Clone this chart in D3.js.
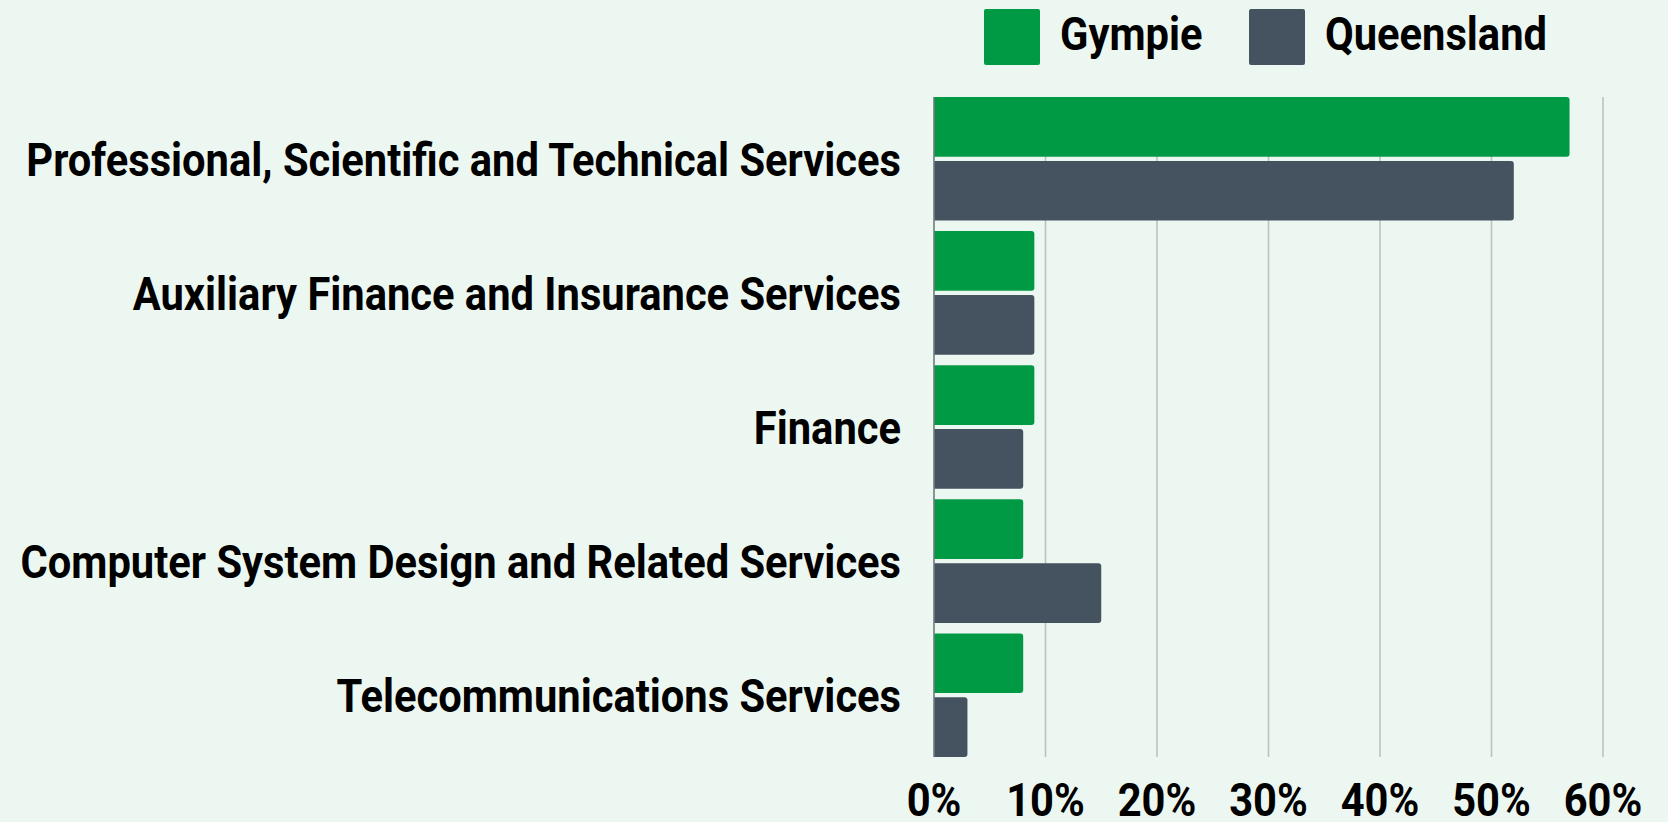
<!DOCTYPE html>
<html><head><meta charset="utf-8">
<script src="https://cdn.jsdelivr.net/npm/d3@7/dist/d3.min.js"></script>
<style>
html,body{margin:0;padding:0;background:#edf7f1;}
svg{display:block;}
text{font-family:"Roboto","Liberation Sans",sans-serif;font-weight:bold;fill:#000;}
</style></head><body>
<svg id="chart" width="1668" height="822"></svg>
<script>
const categories = [
  "Professional, Scientific and Technical Services",
  "Auxiliary Finance and Insurance Services",
  "Finance",
  "Computer System Design and Related Services",
  "Telecommunications Services"
];
const seriesNames = ["Gympie", "Queensland"];
const gympieValues = [57, 9, 9, 8, 8];
const queenslandValues = [52, 9, 8, 15, 3];
const tickValues = [0, 10, 20, 30, 40, 50, 60];
const colors = ["#009a45", "#45525f"];

(function () {
const svg = d3.select("#chart");
const pLeft = 934, pRight = 1603, pTop = 97, pBottom = 757;
const GAP = 10.5;

const x = d3.scaleLinear().domain([0, 60]).range([pLeft, pRight]);
const y = d3.scaleBand().domain(categories).range([pTop, pBottom + GAP]).padding(0);
const bandH = y.step() - GAP;
const y1 = d3.scaleBand().domain(seriesNames).range([0, bandH]).paddingInner(0.066);

// gridlines
svg.append("g").selectAll("line").data(tickValues.filter(d => d > 0)).join("line")
  .attr("x1", d => x(d)).attr("x2", d => x(d))
  .attr("y1", pTop).attr("y2", pBottom)
  .attr("stroke", "#b9c4bf").attr("stroke-width", 1.6);

// bars
const data = categories.map((c, i) => ({cat: c, vals: [gympieValues[i], queenslandValues[i]]}));
function barPath(x0, x1, y0, h, r) {
  return `M${x0},${y0}H${x1 - r}Q${x1},${y0} ${x1},${y0 + r}V${y0 + h - r}Q${x1},${y0 + h} ${x1 - r},${y0 + h}H${x0}Z`;
}
const g = svg.append("g");
data.forEach(d => {
  d.vals.forEach((v, si) => {
    const y0 = y(d.cat) + y1(seriesNames[si]);
    g.append("path")
      .attr("d", barPath(x(0), x(v), y0, y1.bandwidth(), 3))
      .attr("fill", colors[si]);
  });
});

// axis line
svg.append("line").attr("x1", x(0)).attr("x2", x(0)).attr("y1", pTop).attr("y2", pBottom)
  .attr("stroke", "#6f7b7d").attr("stroke-width", 1.6);

const FS = 47;
const probe = svg.append("text").attr("font-size", FS).text(categories[0]);
const w0 = probe.node().getComputedTextLength();
probe.remove();
const k = Math.min(1, 875 / w0);

// category labels
svg.append("g").selectAll("text").data(categories).join("text")
  .attr("font-size", FS)
  .attr("text-anchor", "end")
  .attr("dy", "0.36em")
  .attr("transform", d => `translate(901,${y(d) + bandH / 2}) scale(${k},1)`)
  .text(d => d);

// x tick labels
svg.append("g").selectAll("text").data(tickValues).join("text")
  .attr("font-size", FS)
  .attr("text-anchor", "middle")
  .attr("transform", d => `translate(${x(d)},816) scale(${k},1)`)
  .text(d => d + "%");

// legend
const legendX = [984, 1249];
const legendG = svg.append("g");
seriesNames.forEach((s, i) => {
  legendG.append("rect").attr("x", legendX[i]).attr("y", 9).attr("width", 56).attr("height", 56)
    .attr("rx", 2).attr("fill", colors[i]);
  legendG.append("text").attr("font-size", FS)
    .attr("transform", `translate(${legendX[i] + 76},49.5) scale(${k},1)`)
    .text(s);
});
})();
</script>
</body></html>
